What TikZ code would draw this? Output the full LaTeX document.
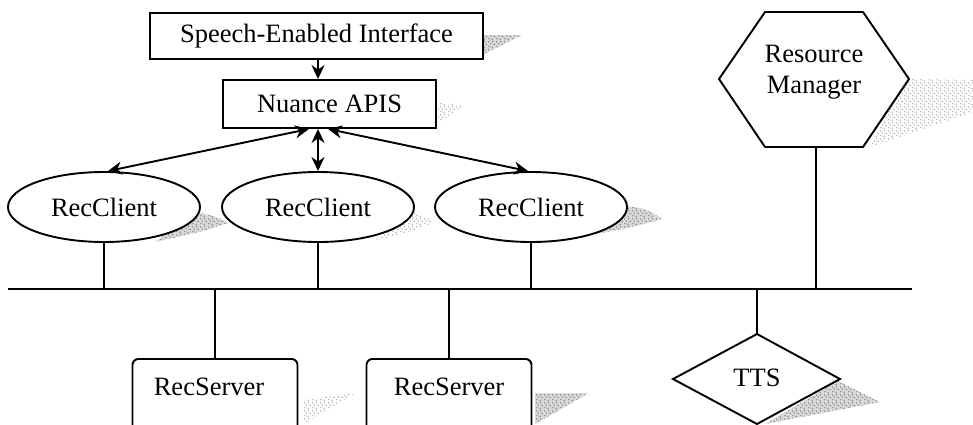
\documentclass[tikz,border=0pt]{standalone}
\usepackage{fontspec}
\setmainfont{Liberation Serif}
\usetikzlibrary{shapes.geometric,arrows.meta,patterns}
% irregular stipple used for the drop shadows
\pgfdeclarepatternformonly{stipple}{\pgfqpoint{0pt}{0pt}}{\pgfqpoint{8pt}{8pt}}{\pgfqpoint{8pt}{8pt}}{%
  \pgfpathcircle{\pgfqpoint{1pt}{1.5pt}}{0.8pt}
  \pgfpathcircle{\pgfqpoint{4.6pt}{0.8pt}}{0.75pt}
  \pgfpathcircle{\pgfqpoint{6.8pt}{3.9pt}}{0.8pt}
  \pgfpathcircle{\pgfqpoint{2.9pt}{4.4pt}}{0.75pt}
  \pgfpathcircle{\pgfqpoint{0.6pt}{6.6pt}}{0.8pt}
  \pgfpathcircle{\pgfqpoint{5.2pt}{6.9pt}}{0.75pt}
  \pgfusepath{fill}}
\begin{document}
\begin{tikzpicture}[x=1pt,y=-1pt,
  every node/.style={font=\fontsize{26.5}{31}\selectfont},
  wire/.style={line width=1.9pt},
  box/.style={draw,line width=1.9pt,fill=white,inner sep=0pt},
  client/.style={draw,ellipse,line width=1.9pt,fill=white,minimum width=192pt,minimum height=70pt,inner sep=0pt},
  serverbox/.style={draw,rounded corners=6pt,line width=1.9pt,fill=white,minimum width=165pt,minimum height=100pt,anchor=north,inner sep=0pt},
  heavyshade/.style={fill=gray!30,postaction={pattern=stipple,pattern color=gray!90!black}},
  lightshade/.style={pattern=stipple,pattern color=gray!80},
  link/.style={line width=1.9pt,{Stealth[length=14pt,width=13pt]}-{Stealth[length=14pt,width=13pt]}},
  feed/.style={line width=1.9pt,-{Stealth[length=14pt,width=13pt]}}
]
\useasboundingbox (0,0) rectangle (973,424);
\clip (0,0) rectangle (973,424);

% ---- stippled drop shadows (drawn first, shapes cover them) ----
\fill[heavyshade] (484,35) -- (522,35) -- (484,54) -- cycle;
\fill[lightshade] (438,103) -- (465,105) -- (438,123) -- cycle;
\fill[heavyshade] (196,212) .. controls (215,216) .. (229,223) .. controls (200,232) .. (155,242) -- cycle;
\fill[lightshade] (410,212) .. controls (425,216) .. (435,222) .. controls (410,232) .. (375,241) -- cycle;
\fill[heavyshade] (622,206) .. controls (645,208) .. (662,219) .. controls (630,228) .. (583,236) -- cycle;
\fill[lightshade] (303,400) -- (356,393) -- (303,424) -- cycle;
\fill[heavyshade] (535,393) -- (589,393) -- (535,424) -- cycle;
\fill[heavyshade] (838,381) -- (880,402) -- (765,424) -- cycle;
\fill[lightshade] (905,79) -- (973,80) -- (973,112) -- (870,147) -- cycle;

% ---- interface stack ----
\node[box,minimum width=333pt,minimum height=46pt] (sei) at (316.5,36) {Speech-Enabled Interface};
\node[box,minimum width=213pt,minimum height=48pt] (nuance) at (329.5,104) {Nuance APIS};

% ---- recognition clients ----
\node[client] (rc1) at (104,207) {RecClient};
\node[client] (rc2) at (318,207) {RecClient};
\node[client] (rc3) at (531,207) {RecClient};

% ---- recognition servers ----
\node[serverbox] (rs1) at (215,358) {};
\node (rs1t) at (209,387) {RecServer};
\node[serverbox] (rs2) at (449,358) {};
\node (rs2t) at (449,387) {RecServer};

% ---- resource manager (hexagon) ----
\draw[wire,fill=white] (719,79) -- (765,12) -- (863,12) -- (909,79) -- (863,147) -- (765,147) -- cycle;
\node[align=center] (rm) at (814,72) {Resource\\Manager};
\coordinate (rmb) at (816,147);

% ---- text-to-speech (diamond) ----
\draw[wire,fill=white] (673,379) -- (757,334) -- (840,379) -- (757,424) -- cycle;
\node (tts) at (757,378) {TTS};
\coordinate (ttst) at (757,334);

% ---- network bus ----
\coordinate (busL) at (8,289);
\coordinate (busR) at (912,289);
\draw[wire] (busL) -- (busR);

% ---- connectors ----
\draw[feed] (sei.south -| 318,0) -- (nuance.north -| 318,0);
\coordinate (hub) at (nuance.south -| 318,0);
\draw[link] ([xshift=-9pt]hub) -- ([xshift=4pt]rc1.north);
\draw[link] (hub) -- (rc2.north);
\draw[link] ([xshift=10pt]hub) -- ([xshift=-3pt]rc3.north);

\draw[wire] (rc1.south) -- (rc1.south |- busL);
\draw[wire] (rc2.south) -- (rc2.south |- busL);
\draw[wire] (rc3.south) -- (rc3.south |- busL);
\draw[wire] (rs1.north |- busL) -- (rs1.north);
\draw[wire] (rs2.north |- busL) -- (rs2.north);
\draw[wire] (ttst |- busL) -- (ttst);
\draw[wire] (rmb) -- (rmb |- busL);
\end{tikzpicture}
\end{document}
